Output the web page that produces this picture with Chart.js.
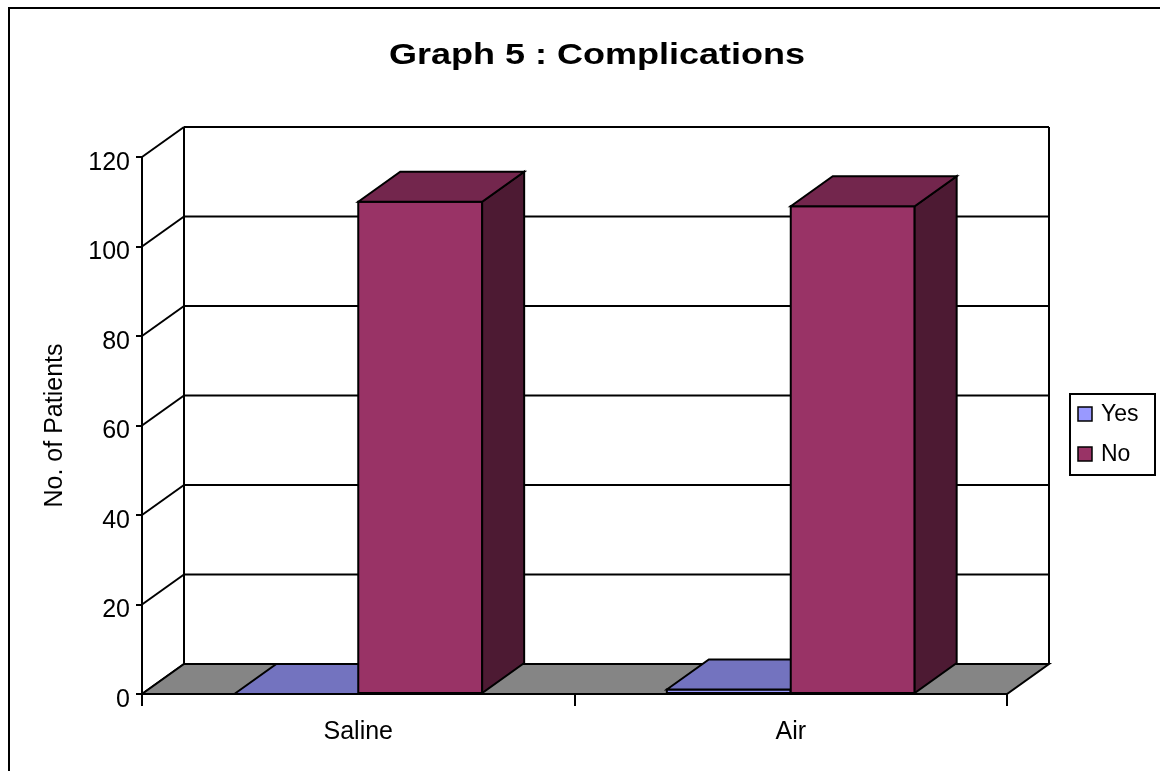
<!DOCTYPE html>
<html>
<head>
<meta charset="utf-8">
<title>Graph 5 : Complications</title>
<script src="https://cdn.jsdelivr.net/npm/chart.js@4.4.0/dist/chart.umd.min.js"></script>
<style>
  html, body { margin: 0; padding: 0; background: #fff; }
  canvas { display: block; }
</style>
</head>
<body>
<canvas id="chart" width="1160" height="771"></canvas>
<script>
// Graph 5 : Complications -- old Excel style 3D clustered columns

const chartTitle = 'Graph 5 : Complications';
const yTitle = 'No. of Patients';
const categories = ['Saline', 'Air'];
const seriesNames = ['Yes', 'No'];
const yesValues = [0, 1];
const noValues = [110, 109];
const seriesColors = ['#9999FF', '#993366'];
const yTicks = [0, 20, 40, 60, 80, 100, 120];

const FONT = '"Liberation Sans", Arial, sans-serif';
const DX = 42, DY = -30;   // depth of the 3D box

function shade(hex, f) {
  const n = parseInt(hex.slice(1), 16);
  const r = Math.round(((n >> 16) & 255) * f);
  const g = Math.round(((n >> 8) & 255) * f);
  const b = Math.round((n & 255) * f);
  return `rgb(${r},${g},${b})`;
}

function poly(ctx, pts, fill) {
  ctx.beginPath();
  ctx.moveTo(pts[0][0], pts[0][1]);
  for (let i = 1; i < pts.length; i++) ctx.lineTo(pts[i][0], pts[i][1]);
  ctx.closePath();
  if (fill) { ctx.fillStyle = fill; ctx.fill(); }
  ctx.stroke();
}

function line(ctx, x1, y1, x2, y2) {
  ctx.beginPath();
  ctx.moveTo(x1, y1);
  ctx.lineTo(x2, y2);
  ctx.stroke();
}

const box3d = {
  id: 'box3d',
  beforeDraw(chart) {
    const ctx = chart.ctx;
    ctx.save();
    ctx.fillStyle = '#fff';
    ctx.fillRect(0, 0, chart.width, chart.height);
    ctx.strokeStyle = '#000';
    ctx.lineWidth = 2;
    ctx.strokeRect(9, 8, chart.width + 20, chart.height + 20);
    ctx.restore();
  },
  beforeDatasetsDraw(chart) {
    const { ctx, chartArea: a, scales: { y } } = chart;
    ctx.save();
    ctx.strokeStyle = '#000';
    ctx.lineWidth = 2;
    ctx.lineJoin = 'miter';

    // walls: gridlines run along the left wall then across the back wall
    yTicks.forEach(v => {
      const py = y.getPixelForValue(v);
      line(ctx, a.left, py, a.left + DX, py + DY);
      line(ctx, a.left + DX, py + DY, a.right + DX, py + DY);
    });
    line(ctx, a.left + DX, a.top + DY, a.left + DX, a.bottom + DY);
    line(ctx, a.right + DX, a.top + DY, a.right + DX, a.bottom + DY);

    // floor
    poly(ctx, [[a.left, a.bottom], [a.right, a.bottom],
               [a.right + DX, a.bottom + DY], [a.left + DX, a.bottom + DY]], '#858585');

    // columns
    categories.forEach((c, j) => {
      chart.data.datasets.forEach((ds, i) => {
        const el = chart.getDatasetMeta(i).data[j];
        const p = el.getProps(['x', 'y', 'base', 'width'], true);
        const l = p.x - p.width / 2, r = p.x + p.width / 2;
        const t = p.y, b = p.base;
        const col = seriesColors[i];
        poly(ctx, [[l, t], [r, t], [r, b], [l, b]], col);
        poly(ctx, [[r, t], [r + DX, t + DY], [r + DX, b + DY], [r, b]], shade(col, 0.5));
        poly(ctx, [[l, t], [l + DX, t + DY], [r + DX, t + DY], [r, t]], shade(col, 0.75));
      });
    });
    ctx.restore();
    return false;
  },
  afterDraw(chart) {
    const ctx = chart.ctx;
    ctx.save();
    // title, stretched a little sideways like the original
    ctx.fillStyle = '#000';
    ctx.font = 'bold 30px ' + FONT;
    ctx.textAlign = 'center';
    ctx.textBaseline = 'alphabetic';
    ctx.translate(597, 64);
    ctx.scale(1.2, 1);
    ctx.fillText(chartTitle, 0, 0);
    ctx.restore();

    // legend
    ctx.save();
    ctx.strokeStyle = '#000';
    ctx.lineWidth = 2;
    ctx.fillStyle = '#fff';
    ctx.fillRect(1070, 394, 85, 81);
    ctx.strokeRect(1070, 394, 85, 81);
    ctx.font = '23px ' + FONT;
    ctx.textAlign = 'left';
    ctx.textBaseline = 'middle';
    ctx.lineWidth = 1.5;
    seriesNames.forEach((n, i) => {
      const cy = 414 + i * 40;
      ctx.fillStyle = seriesColors[i];
      ctx.fillRect(1078, cy - 7, 14, 14);
      ctx.strokeRect(1078, cy - 7, 14, 14);
      ctx.fillStyle = '#000';
      ctx.fillText(n, 1101, cy + 1);
    });
    ctx.restore();
  }
};

new Chart(document.getElementById('chart'), {
  type: 'bar',
  data: {
    labels: categories,
    datasets: [
      { label: seriesNames[0], data: yesValues, backgroundColor: seriesColors[0] },
      { label: seriesNames[1], data: noValues, backgroundColor: seriesColors[1] },
    ],
  },
  options: {
    responsive: false,
    animation: false,
    devicePixelRatio: 1,
    categoryPercentage: 0.573,
    barPercentage: 1,
    layout: { padding: { top: 157, left: 36, right: 153, bottom: 0 } },
    plugins: { legend: { display: false }, title: { display: false }, tooltip: { enabled: false } },
    scales: {
      x: {
        afterFit: s => { s.height = 77; },
        grid: { offset: true, drawOnChartArea: false, tickLength: 12, color: '#000', lineWidth: 2 },
        border: { display: true, color: '#000', width: 2 },
        ticks: { color: '#000', font: { family: FONT, size: 25 }, padding: 11 },
      },
      y: {
        min: 0,
        max: 120,
        afterFit: s => { s.width = 106; },
        afterBuildTicks: s => { s.ticks = yTicks.map(v => ({ value: v })); },
        grid: { drawOnChartArea: false, tickLength: 6, color: '#000', lineWidth: 2 },
        border: { display: true, color: '#000', width: 2 },
        ticks: { color: '#000', font: { family: FONT, size: 25 }, padding: 6, labelOffset: 6 },
        title: { display: true, text: yTitle, color: '#000', font: { family: FONT, size: 25 }, padding: { top: 4, bottom: 0 } },
      },
    },
  },
  plugins: [box3d],
});
</script>
</body>
</html>
